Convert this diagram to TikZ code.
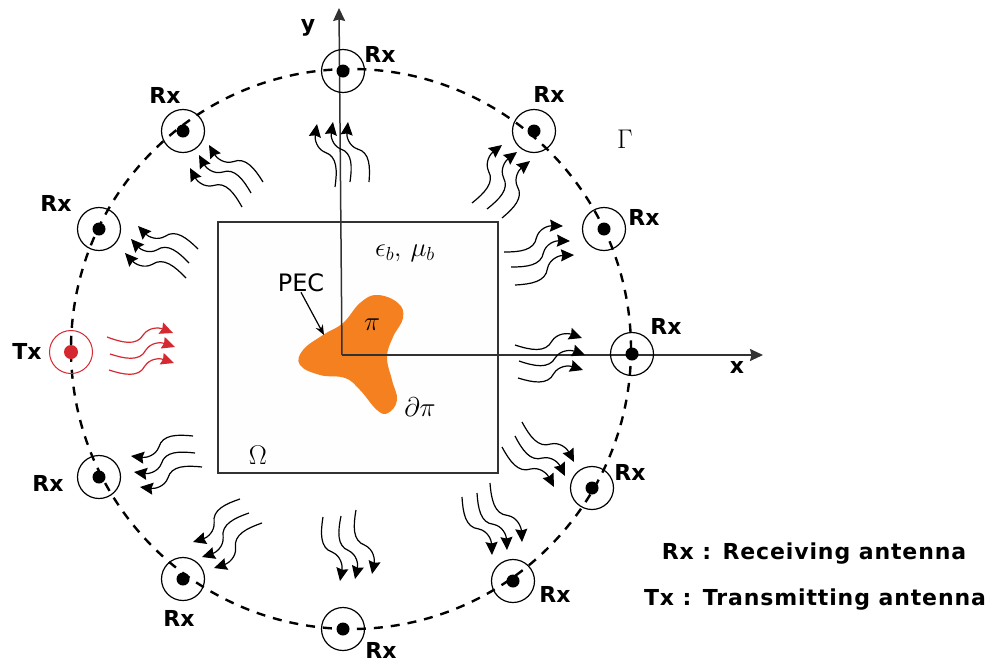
\documentclass[tikz,border=0pt]{standalone}
\usepackage{fix-cm}
\usepackage{fontspec}
\setmainfont{DejaVu Sans}
\usetikzlibrary{arrows.meta,calc}
\definecolor{pecorange}{RGB}{245,128,32}
\definecolor{axisgray}{RGB}{50,50,50}
\definecolor{txred}{RGB}{214,40,48}
\tikzset{
  wave/.style={line width=1.2pt,-{Stealth[length=13pt,width=12pt,inset=1.5pt]}},
  antenna/.style={circle,draw,line width=1.2pt,minimum size=43pt,inner sep=0pt},
  rxlabel/.style={font=\fontsize{22}{26}\selectfont\bfseries,inner sep=0pt},
  mathlabel/.style={font=\fontsize{27}{30}\selectfont,inner sep=0pt},
  peclabel/.style={font=\fontsize{24}{28}\selectfont,inner sep=0pt},
  legend/.style={font=\fontsize{22}{26}\selectfont\bfseries\addfontfeature{LetterSpace=4},inner sep=0pt}
}
\newcommand{\wavearrow}[3][black]{
  \coordinate (wa) at (#2);
  \coordinate (wb) at (#3);
  \draw[wave,#1] (wa) .. controls ($(wa)!.24!-24:(wb)$) and ($(wa)!.47!-21:(wb)$) .. ($(wa)!.55!(wb)$)
    .. controls ($(wa)!.65!10:(wb)$) and ($(wa)!.8!7:(wb)$) .. (wb);
}
\begin{document}
\begin{tikzpicture}[x=1pt,y=-1pt]
 \useasboundingbox (0,0) rectangle (990,662);
 % domain and scatterer
 \node[draw=axisgray,line width=1.5pt,fill=gray!1,minimum width=280pt,minimum height=251pt,inner sep=0pt] (omega) at (358,347.5) {};
 \fill[pecorange] plot[smooth cycle,tension=0.7] coordinates {(377,295) (398,303) (403,318) (393,337) (387,357) (392,380) (397,400) (388,413) (377,410) (360,390) (345,378) (320,375) (300,365) (303,350) (323,335) (343,323) (360,303)};
 % measurement circle
 \draw[line width=2.4pt,dash pattern=on 9pt off 8pt] (351,349) circle (280);
 % axes
 \coordinate (origin) at (342,355);
 \coordinate (yend) at (339,8);
 \coordinate (xend) at (763,355);
 \draw[axisgray,line width=1.5pt,-{Stealth[length=13pt,width=12pt,inset=1.5pt]}] (origin) -- (yend);
 \draw[axisgray,line width=1.5pt,-{Stealth[length=13pt,width=12pt,inset=1.5pt]}] (origin) -- (xend);
 % receivers
 \foreach \n/\ax/\ay/\lx/\ly in {1/343/71/380/54, 2/534/131/549/94, 3/604/229/644/217, 4/632/354/666/326, 5/592/488/630/472, 6/513/581/555/594, 7/343/629/381/650, 8/183/579/179/618, 9/99/477/48/483, 10/99/229/56/203, 11/183/131/165/95}{
  \node[antenna] (rx\n) at (\ax,\ay) {};
  \fill (rx\n.center) circle (6.5);
  \node[rxlabel] (rxlab\n) at (\lx,\ly) {Rx};
 }
 % transmitter
 \node[antenna,draw=txred,line width=1pt] (tx) at (71,352) {};
 \fill[txred] (tx.center) circle (7);
 \node[rxlabel] (txlab) at (27,351) {Tx};
 % incident waves
 \foreach \sx/\sy/\ex/\ey in {107/337/173/333, 110/354/175/347, 109/370/174/363}{
  \wavearrow[txred]{\sx,\sy}{\ex,\ey}
 }
 % scattered waves
 \foreach \sx/\sy/\ex/\ey in {
   335/187/317/124, 350/182/333/122, 369/182/348/122,
   472/203/502/145, 487/209/517/152, 502/218/530/161,
   504/252/563/226, 511/267/570/241, 515/285/574/255,
   515/345/582/338, 519/361/585/355, 518/378/583/370,
   522/422/574/462, 515/436/565/476, 502/447/554/487,
   490/483/522/542, 477/493/507/550, 462/497/492/555,
   356/510/372/574, 341/516/355/579, 323/517/340/581,
   240/499/193/542, 249/513/202/557, 262/523/214/568,
   193/436/131/456, 195/453/134/472, 202/467/140/487,
   198/249/138/226, 189/263/131/239, 186/278/125/253,
   263/182/209/145, 251/193/199/155, 242/207/190/168}{
  \wavearrow{\sx,\sy}{\ex,\ey}
 }
 % labels
 \node[rxlabel] (ylab) at (308,28) {y};
 \node[rxlabel] (xlab) at (737,367) {x};
 \node[mathlabel] (gamma) at (625,139) {$\Gamma$};
 \node[mathlabel] (bg) at (405,253) {$\epsilon_b,\,\mu_b$};
 \node[mathlabel] (pi) at (372,325) {$\pi$};
 \node[mathlabel] (dpi) at (420,407) {$\partial\pi$};
 \node[mathlabel] (dom) at (258,455) {$\Omega$};
 \node[peclabel] (pec) at (301,283) {PEC};
 \coordinate (pecedge) at (324,335);
 \draw[line width=1.2pt,-{Stealth[length=10pt,width=8pt]}] (pec.south) -- (pecedge);
 % legend
 \node[legend] (rxkey) at (814,554) {Rx : Receiving antenna};
 \node[legend] (txkey) at (815,600) {Tx : Transmitting antenna};
\end{tikzpicture}
\end{document}
